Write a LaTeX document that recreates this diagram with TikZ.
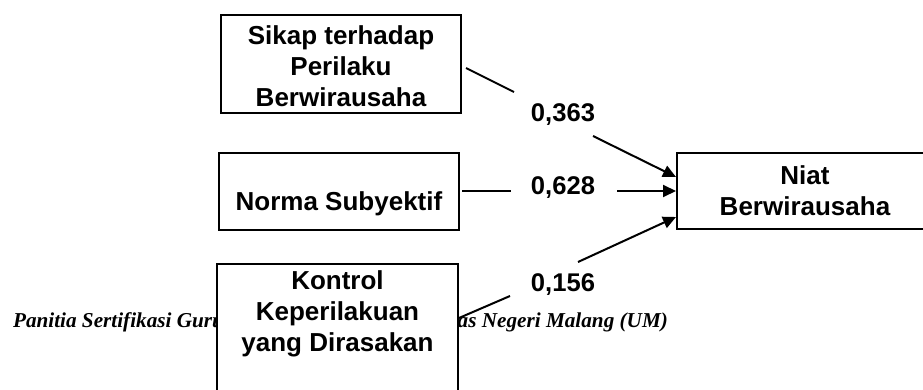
\documentclass[tikz,border=0pt]{standalone}
\usepackage{fontspec}
\setmainfont{Liberation Serif}
\setsansfont{Liberation Sans}
\usetikzlibrary{arrows.meta}

\begin{document}
\begin{tikzpicture}[x=0.5pt,y=-0.5pt,
  kotak/.style={draw,line width=1pt,fill=white,align=center,inner sep=2pt,
    font=\sffamily\bfseries\fontsize{13}{15.5}\selectfont},
  koef/.style={font=\sffamily\bfseries\fontsize{12.8}{14}\selectfont},
  kaki/.style={font=\bfseries\itshape\fontsize{10.6}{13}\selectfont},
  garis/.style={line width=1pt},
  panah/.style={line width=1pt,-{Triangle[length=6.5pt,width=6pt]}}]

  \useasboundingbox (0,0) rectangle (923,390);
  \clip (0,0) rectangle (923,390);

  \draw (6,328) node[kaki,anchor=base west] (kaki1) {Panitia Sertifikasi Guru};
  \draw (675,328) node[kaki,anchor=base east] (kaki2) {as Negeri Malang (UM)};

  \draw (341,64) node[kotak,minimum width=120pt,minimum height=49pt,
    text height=43pt,text depth=0pt] (sikap) {Sikap terhadap\\Perilaku\\Berwirausaha};
  \draw (339,191.5) node[kotak,minimum width=120pt,minimum height=38.5pt,
    text height=22.2pt,text depth=2.7pt] (norma) {Norma Subyektif};
  \draw (337.5,263) node[kotak,anchor=north,minimum width=120.5pt,
    inner ysep=3.5pt,text depth=74pt] (kontrol) {Kontrol\\Keperilakuan\\yang Dirasakan};
  \draw (805,191) node[kotak,minimum width=128pt,minimum height=38pt] (niat)
    {Niat\\Berwirausaha};

  \draw (563,115) node[koef] (k1) {0,363};
  \draw (563,188) node[koef] (k2) {0,628};
  \draw (563,285) node[koef] (k3) {0,156};

  \coordinate (g1a) at (514,92);
  \coordinate (g1b) at (593,136);
  \coordinate (g2a) at (511,191.5);
  \coordinate (g2b) at (617,191);
  \coordinate (g3a) at (510,296);
  \coordinate (g3b) at (578,262);

  \draw[garis] ([shift={(2pt,-2pt)}]sikap.east) -- (g1a);
  \draw[panah] (g1b) -- ([yshift=7pt]niat.west);
  \draw[garis] ([xshift=1pt]norma.east) -- (g2a);
  \draw[panah] (g2b) -- (niat.west);
  \draw[garis] ([yshift=-27.5pt]kontrol.north east) -- (g3a);
  \draw[panah] (g3b) -- ([yshift=-13pt]niat.west);

\end{tikzpicture}
\end{document}
